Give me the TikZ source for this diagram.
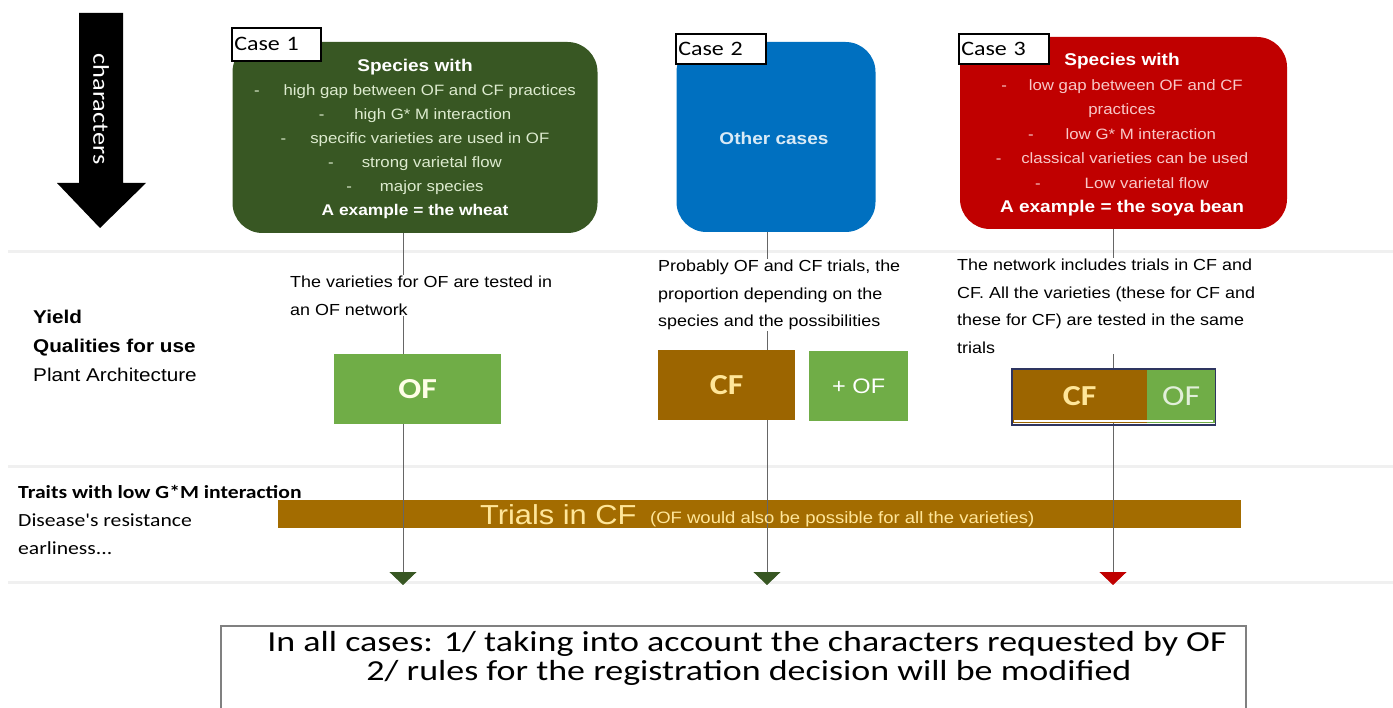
\documentclass[tikz,border=0pt]{standalone}
\usepackage{fontspec}
\setmainfont{Liberation Sans}
\newfontfamily\calw[FakeStretch=1.17]{Carlito}
\newfontfamily\calwide[FakeStretch=1.24]{Carlito}
\newfontfamily\sfw[FakeStretch=1.12]{Liberation Sans}
\usetikzlibrary{arrows.meta}
\definecolor{dkgreen}{HTML}{385723}
\definecolor{csblue}{HTML}{0070C0}
\definecolor{csred}{HTML}{C00000}
\definecolor{ltgreen}{HTML}{70AD47}
\definecolor{cfbrown}{HTML}{9C6500}
\definecolor{barbrown}{HTML}{A36C00}
\definecolor{paleyellow}{HTML}{FFE699}
\definecolor{palegreen}{HTML}{DDEBCF}
\definecolor{palepink}{HTML}{F8C8C8}
\definecolor{navy}{HTML}{2E3560}
\tikzset{
  casebox/.style={draw=none, rounded corners=30pt, inner sep=0pt},
  caselabel/.style={draw=black, line width=1.6pt, fill=white, anchor=north west, font=\calw\fontsize{20.5}{22}\selectfont, inner sep=0pt, inner xsep=2pt, align=left},
  sep/.style={line width=3pt, color=gray!12},
  vline/.style={draw=gray!80!black, line width=0.8pt},
  plaintext/.style={anchor=north west, align=left, inner sep=1pt, fill=white, font=\sfw\fontsize{16}{27.5}\selectfont},
  tribox/.style={inner sep=0pt, anchor=north west},
  bigcal/.style={font=\calw\bfseries\fontsize{29}{30}\selectfont},
  leftlab/.style={anchor=base west, inner sep=0pt},
  finaltext/.style={anchor=base, inner sep=0pt, font=\calwide\fontsize{29}{26}\selectfont},
}
\begin{document}
\begin{tikzpicture}[x=1pt,y=-1pt]
\useasboundingbox (0,0) rectangle (1393,708);
% separators
\draw[sep] (8,252) -- (1393,252);
\draw[sep] (8,467) -- (1393,467);
\draw[sep] (8,582) -- (1393,582);
% big arrow
\fill[black] (79,13) -- (123,13) -- (123,183) -- (146,183) -- (100,228) -- (57,183) -- (79,183) -- cycle;
\node[rotate=-90, text=white, font=\calw\fontsize{22.5}{24}\selectfont] (chars) at (101,109) {characters};
% case boxes
\node[casebox, fill=dkgreen, minimum width=365pt, minimum height=191pt] (c1) at (415,137.5) {};
\node[casebox, fill=csblue, minimum width=199pt, minimum height=190pt] (c2) at (776,137) {};
\node[casebox, fill=csred, minimum width=327pt, minimum height=192pt] (c3) at (1123.5,133) {};
% case 1 text
\node[align=center, text=palegreen, font=\sfw\fontsize{15}{24}\selectfont, inner sep=0pt] (c1t) at (415,139) {%
{\color{white}\bfseries\fontsize{17}{24}\selectfont Species with}\\
-\hspace{24pt}high gap between OF and CF practices\\
-\hspace{30pt}high G* M interaction\\
-\hspace{24pt}specific varieties  are used in OF\\
-\hspace{28pt}strong varietal  flow\\
-\hspace{28pt}major species\\
{\color{white}\bfseries\fontsize{15.5}{24}\selectfont A example = the wheat}};
% case 2 text
\node[text=white!85!csblue, font=\sfw\bfseries\fontsize{17}{20}\selectfont] (c2t) at (774,138) {Other cases};
% case 3 text
\node[align=center, text=palepink, font=\sfw\fontsize{15}{24.5}\selectfont, inner sep=0pt] (c3t) at (1122,135) {%
{\color{white}\bfseries\fontsize{17}{24.5}\selectfont Species with}\\
-\hspace{22pt}low gap between OF and CF\\
practices\\
-\hspace{32pt}low G* M interaction\\
-\hspace{20pt}classical varieties can be used\\
-\hspace{44pt}Low varietal flow\hspace{20pt}\\
{\color{white}\bfseries\fontsize{17}{24.5}\selectfont A example = the soya bean}};
% case labels
\node[caselabel, minimum width=89pt, minimum height=33pt, text width=84pt] (l1) at (231,27) {Case 1};
\node[caselabel, minimum width=90pt, minimum height=30pt, text width=85pt] (l2) at (675,33) {Case 2};
\node[caselabel, minimum width=90pt, minimum height=30pt, text width=85pt] (l3) at (958,33) {Case 3};
% trials bar
\node[fill=barbrown, minimum width=963pt, minimum height=28pt, inner sep=0pt, anchor=north west] (bar) at (278,500) {};
% arrow tips
\coordinate (t1) at (403,585);
\coordinate (t2) at (767,585);
\coordinate (t3) at (1113,585);
\draw[vline, -{Triangle[width=27pt,length=13pt,color=dkgreen]}] (c1.south -| t1) -- (t1);
\draw[vline, -{Triangle[width=27pt,length=13pt,color=dkgreen]}] (c2.south -| t2) -- (t2);
\draw[vline, -{Triangle[width=27pt,length=13pt,color=csred]}] (c3.south -| t3) -- (t3);
\node[anchor=base west, text=paleyellow, inner sep=0pt, font=\sfw\fontsize{27.5}{30}\selectfont] (trt) at (480,525) {Trials in CF};
\node[anchor=base west, text=paleyellow, inner sep=0pt, font=\sfw\fontsize{16.5}{18}\selectfont] (tro) at (650,523) {(OF would also be possible for all the varieties)};
% texts under cases
\node[plaintext] (d1) at (289,275) {The varieties for OF are tested in\\an OF network};
\node[plaintext] (d2) at (657,259) {Probably OF and CF trials, the\\proportion depending on the\\species and the possibilities};
\node[plaintext] (d3) at (956,258) {The network includes trials in CF and\\CF. All the varieties (these for CF and\\these for CF) are tested in the same\\trials};
% small boxes
\node[tribox, fill=ltgreen, minimum width=167pt, minimum height=70pt] (of1) at (334,354) {};
\node[bigcal, text=white!90!yellow] (of1t) at (of1.center) {OF};
\node[tribox, fill=cfbrown, minimum width=137pt, minimum height=70pt] (cf2) at (658,350) {};
\node[bigcal, text=paleyellow] (cf2t) at (cf2.center) {CF};
\node[tribox, fill=ltgreen, minimum width=99pt, minimum height=70pt] (of2) at (809,351) {};
\node[text=white, font=\sfw\fontsize{21}{22}\selectfont] (of2t) at (of2.center) {+ OF};
% combined box
\node[tribox, fill=cfbrown, minimum width=135pt, minimum height=54pt] (cf3) at (1012,369) {};
\node[tribox, fill=ltgreen, minimum width=68pt, minimum height=54pt] (of3) at (1147,369) {};
\draw[navy, line width=1.5pt] (cf3.north west) rectangle (of3.south east |- 0,425);
\draw[white, line width=1.5pt] (1014,421) -- (1213,421);
\node[bigcal, text=paleyellow] (cf3t) at (cf3.center) {CF};
\node[text=white!80!ltgreen, font=\calw\fontsize{29}{30}\selectfont] (of3t) at (of3.center) {OF};
% left labels
\node[leftlab, font=\sfw\bfseries\fontsize{18.5}{20}\selectfont] (y1) at (33,324) {Yield};
\node[leftlab, font=\sfw\bfseries\fontsize{18.5}{20}\selectfont] (y2) at (33,353) {Qualities for use};
\node[leftlab, font=\sfw\fontsize{18.5}{20}\selectfont] (y3) at (33,382) {Plant Architecture};
\node[leftlab, font=\calw\bfseries\fontsize{18.5}{20}\selectfont] (tr1) at (18,499) {Traits with low G*M interaction};
\node[leftlab, font=\calw\fontsize{18.5}{20}\selectfont] (tr2) at (18,526) {Disease's resistance};
\node[leftlab, font=\calw\fontsize{18.5}{20}\selectfont] (tr3) at (18,554) {earliness...};
% bottom box
\draw[gray, line width=1.2pt, fill=white] (221,626) rectangle (1246,720);
\node[finaltext] (fin1) at (747,651) {In all cases: 1/ taking into account the characters requested by OF};
\node[finaltext] (fin2) at (749,680) {2/ rules for the registration decision will be modified};
\end{tikzpicture}
\end{document}
